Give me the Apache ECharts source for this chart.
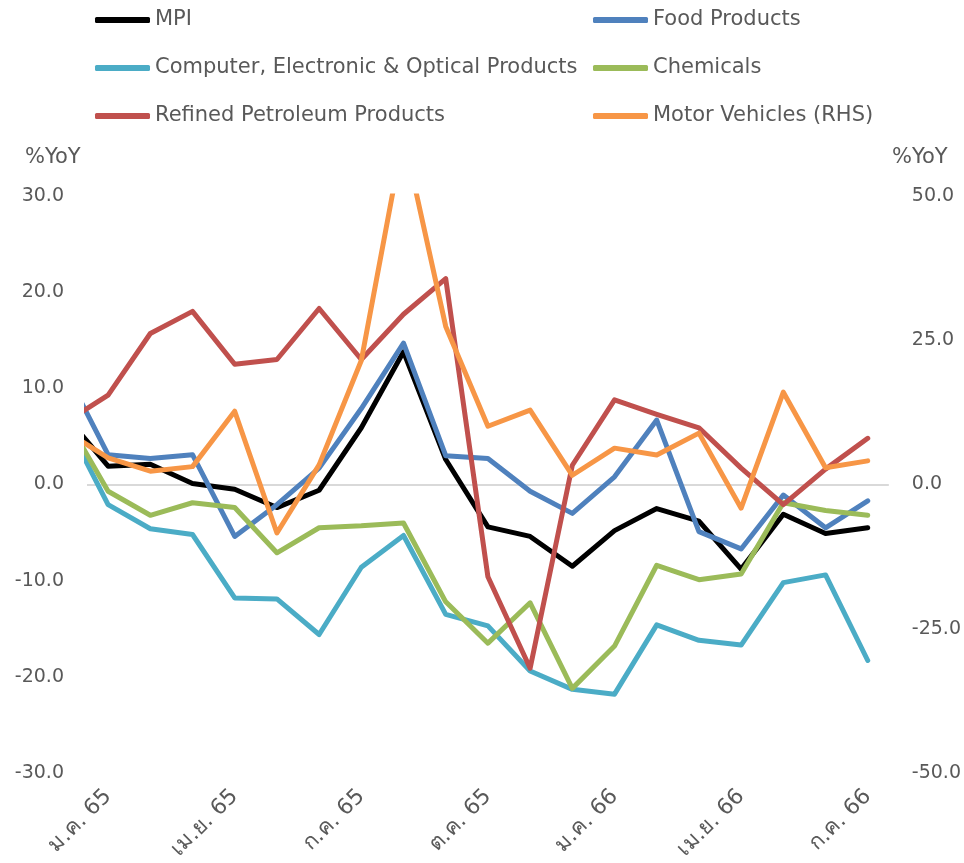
<!DOCTYPE html>
<html>
<head>
<meta charset="utf-8">
<script src="https://cdn.jsdelivr.net/npm/echarts@6/dist/echarts.min.js"></script>
<style>
html,body{margin:0;padding:0;background:#ffffff;}
#chart{width:964px;height:863px;}
</style>
</head>
<body>
<div id="chart"></div>
<script>
// Categories (Jan 2022 .. Jul 2023 in Thai Buddhist-era short form)
const months = ['ม.ค. 65','ก.พ. 65','มี.ค. 65','เม.ย. 65','พ.ค. 65','มิ.ย. 65','ก.ค. 65','ส.ค. 65','ก.ย. 65','ต.ค. 65','พ.ย. 65','ธ.ค. 65','ม.ค. 66','ก.พ. 66','มี.ค. 66','เม.ย. 66','พ.ค. 66','มิ.ย. 66','ก.ค. 66'];

// Series values; the first value of each is ธ.ค. 64 (only its segment into ม.ค. 65 is visible at the left edge)
const mpi       = [7.1, 1.9, 2.1, 0.1, -0.5, -2.4, -0.6, 5.9, 13.8, 2.6, -4.4, -5.4, -8.5, -4.8, -2.5, -3.8, -8.8, -3.1, -5.1, -4.5];
const food      = [11.7, 3.1, 2.7, 3.1, -5.4, -2.1, 1.7, 7.9, 14.7, 3.0, 2.7, -0.7, -3.0, 0.8, 6.7, -4.9, -6.7, -1.1, -4.5, -1.7];
const computer  = [6.5, -2.1, -4.6, -5.2, -11.8, -11.9, -15.6, -8.6, -5.3, -13.5, -14.7, -19.4, -21.3, -21.8, -14.6, -16.2, -16.7, -10.2, -9.4, -18.3];
const chemicals = [6.9, -0.7, -3.2, -1.9, -2.4, -7.1, -4.5, -4.3, -4.0, -12.2, -16.5, -12.3, -21.2, -16.8, -8.4, -9.9, -9.3, -1.9, -2.7, -3.2];
const refined   = [6.5, 9.3, 15.7, 18.0, 12.5, 13.0, 18.3, 13.0, 17.7, 21.4, -9.6, -19.1, 2.0, 8.8, 7.3, 5.9, 1.7, -2.1, 1.6, 4.8];
const motor     = [9.2, 4.6, 2.3, 3.1, 12.7, -8.4, 3.4, 21.5, 60.5, 27.4, 10.1, 12.9, 1.6, 6.3, 5.1, 8.9, -4.1, 16.0, 2.9, 4.1]; // RHS

// Axis ticks
const leftTicks  = { min: -30, max: 30, interval: 10 };
const rightTicks = { min: -50, max: 50, interval: 25 };
const axisTitle = '%YoY';

const seriesDefs = [
  { name: 'MPI', data: mpi, color: '#000000', y: 0 },
  { name: 'Food Products', data: food, color: '#4F81BD', y: 0 },
  { name: 'Computer, Electronic & Optical Products', data: computer, color: '#4BACC6', y: 0 },
  { name: 'Chemicals', data: chemicals, color: '#9BBB59', y: 0 },
  { name: 'Refined Petroleum Products', data: refined, color: '#C0504D', y: 0 },
  { name: 'Motor Vehicles (RHS)', data: motor, color: '#F79646', y: 1 }
];

const textColor = '#595959';
const fontFam = '"DejaVu Sans", Tahoma, Verdana, sans-serif';

const chart = echarts.init(document.getElementById('chart'), null, { renderer: 'canvas' });

const legendCommon = {
  orient: 'vertical',
  top: 8,
  padding: 0,
  itemWidth: 55,
  itemHeight: 6,
  itemGap: 24,
  icon: 'roundRect',
  textStyle: { color: textColor, fontSize: 21, fontFamily: fontFam, lineHeight: 24 },
  selectedMode: false
};

const zeroSplitColors = [];
for (let v = leftTicks.min; v <= leftTicks.max; v += leftTicks.interval) {
  zeroSplitColors.push(v === 0 ? '#D9D9D9' : 'rgba(0,0,0,0)');
}

const option = {
  backgroundColor: '#ffffff',
  animation: false,
  textStyle: { fontFamily: fontFam },
  legend: [
    Object.assign({}, legendCommon, { left: 95, data: [seriesDefs[0].name, seriesDefs[2].name, seriesDefs[4].name] }),
    Object.assign({}, legendCommon, { left: 593, data: [seriesDefs[1].name, seriesDefs[3].name, seriesDefs[5].name] })
  ],
  grid: { left: 87, right: 74, top: 196, bottom: 90, containLabel: false },
  graphic: [
    { type: 'text', left: 25, top: 147, style: { text: axisTitle, fill: textColor, font: '21px ' + fontFam } },
    { type: 'text', left: 892, top: 147, style: { text: axisTitle, fill: textColor, font: '21px ' + fontFam } }
  ],
  xAxis: [
    {
      type: 'category',
      data: months,
      boundaryGap: true,
      axisLine: { show: false },
      axisTick: { show: false },
      splitLine: { show: false },
      axisLabel: {
        interval: 2,
        rotate: 45,
        margin: 20,
        color: textColor,
        fontSize: 22,
        fontFamily: fontFam
      }
    },
    {
      type: 'value',
      min: -0.5,
      max: months.length - 0.5,
      show: false,
      splitLine: { show: false }
    }
  ],
  yAxis: [
    {
      type: 'value',
      min: leftTicks.min, max: leftTicks.max, interval: leftTicks.interval,
      axisLine: { show: false },
      axisTick: { show: false },
      splitLine: { show: true, lineStyle: { color: zeroSplitColors, width: 2 } },
      axisLabel: { color: textColor, fontSize: 19, fontFamily: fontFam, margin: 23, formatter: v => v.toFixed(1) }
    },
    {
      type: 'value',
      min: rightTicks.min, max: rightTicks.max, interval: rightTicks.interval,
      axisLine: { show: false },
      axisTick: { show: false },
      splitLine: { show: false },
      axisLabel: { color: textColor, fontSize: 19, fontFamily: fontFam, margin: 23, formatter: v => v.toFixed(1) }
    }
  ],
  series: seriesDefs.map(s => ({
    name: s.name,
    type: 'line',
    xAxisIndex: 1,
    yAxisIndex: s.y,
    data: s.data.map((v, k) => [k - 1, v]),
    showSymbol: false,
    symbol: 'none',
    clip: true,
    color: s.color,
    lineStyle: { color: s.color, width: 5, join: 'round', cap: 'round' },
    itemStyle: { color: s.color },
    emphasis: { disabled: true }
  }))
};

chart.setOption(option);
</script>
</body>
</html>
